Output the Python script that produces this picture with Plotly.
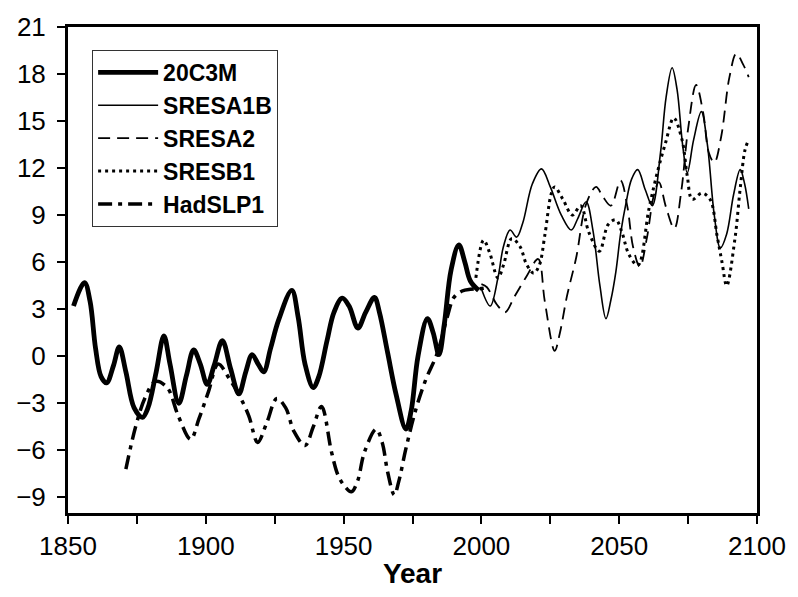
import plotly.graph_objects as go

# ---------------- data ----------------
c20_years = [1852, 1856, 1858, 1860, 1862, 1864, 1866.5, 1868.6, 1871, 1874, 1877, 1879, 1882, 1884.8,
             1887, 1890.2, 1893, 1895.6, 1898, 1900.5, 1903, 1906, 1909, 1912, 1914.5, 1916.8, 1919,
             1921, 1923.5, 1926.4, 1931.2, 1933.5, 1936, 1939, 1941, 1944, 1946.5, 1949.5, 1952,
             1955.2, 1958, 1961.2, 1963, 1966, 1969, 1972.6, 1974.5, 1977, 1980.4, 1982.5, 1984.6,
             1986.5, 1989, 1991.8, 1994, 1996, 1999]
c20_vals = [3.2, 4.7, 3.5, 0.5, -1.3, -1.7, -0.6, 0.6, -1.0, -3.3, -3.9, -3.3, -1.0, 1.3,
            -0.5, -3.0, -1.2, 0.4, -0.5, -1.8, -0.6, 1.0, -0.8, -2.4, -1.0, 0.1, -0.5,
            -1.0, 0.5, 2.3, 4.2, 2.5, -0.5, -2.0, -1.3, 1.0, 2.8, 3.7, 3.2,
            1.8, 2.8, 3.75, 2.8, 0.2, -2.4, -4.65, -3.5, 0.0, 2.4, 1.5, 0.1,
            2.0, 5.5, 7.1, 6.0, 4.8, 4.2]

had_years = [1871, 1874.6, 1878.2, 1881.8, 1886, 1890, 1894.5, 1897.5, 1901, 1904.5, 1908.4, 1912,
             1915.6, 1918.8, 1922, 1925.8, 1929, 1932, 1936, 1939, 1942, 1945.6, 1948, 1950.4,
             1952.8, 1955, 1957.6, 1961.8, 1964, 1966, 1968.4, 1970, 1972.6, 1976.2, 1979.8, 1984,
             1987.6, 1990, 1993, 1996, 1999, 2003]
had_vals = [-7.2, -4.45, -2.55, -1.6, -2.0, -3.8, -5.3, -4.0, -2.24, -0.5, -1.4, -2.45,
            -3.8, -5.5, -4.3, -2.7, -3.3, -4.8, -5.7, -4.5, -3.2, -6.1, -7.6, -8.3,
            -8.65, -8.0, -6.1, -4.65, -5.5, -7.4, -8.85, -8.0, -5.9, -3.4, -1.5, 0.2,
            2.5, 3.74, 4.16, 4.27, 4.3, 4.4]

a1b_years = [2000, 2003.2, 2006, 2008, 2010.4, 2012.8, 2015, 2018.5, 2021.8, 2025, 2029, 2032.6,
             2035, 2038, 2040.5, 2043, 2045.2, 2047, 2048.8, 2050.5, 2052.5, 2054.5, 2056.7,
             2059.5, 2062, 2065, 2067, 2069.2, 2071, 2073, 2074.7, 2077, 2079.8, 2082, 2084.5,
             2086.7, 2089, 2091.5, 2093.9, 2095.5, 2097]
a1b_vals = [4.3, 3.2, 5.0, 7.0, 8.05, 7.6, 8.5, 11.0, 11.95, 10.8, 9.0, 8.05,
            8.8, 9.85, 8.0, 4.5, 2.4, 3.6, 5.4, 7.8, 9.8, 11.3, 11.9,
            10.6, 9.6, 13.0, 16.5, 18.4, 17.0, 13.5, 11.7, 13.8, 15.6, 13.5, 9.0,
            6.9, 7.8, 10.3, 11.9, 11.0, 9.4]

a2_years = [2000, 2002, 2005.6, 2008.6, 2012, 2016.4, 2020.6, 2023, 2026.6, 2028.5, 2031, 2034.4,
            2038, 2041.6, 2044, 2047, 2050.5, 2053, 2055, 2057.5, 2060, 2062.5, 2064.4, 2067,
            2070, 2072.5, 2075, 2077.9, 2080.5, 2082.5, 2084.5, 2087, 2090, 2092.5, 2095, 2097]
a2_vals = [4.6, 4.4, 3.3, 2.8, 3.8, 5.1, 6.2, 3.5, 0.35, 1.5, 3.8, 6.3,
           9.7, 10.8, 10.2, 9.6, 11.2, 9.5, 7.0, 5.7, 7.5, 10.2, 11.1, 9.5,
           8.15, 10.5, 14.5, 17.3, 15.5, 13.0, 12.35, 14.0, 17.8, 19.3, 18.6, 17.8]

b1_years = [1998, 2000.8, 2003, 2006, 2008, 2011, 2014, 2016.4, 2019, 2021, 2023, 2025.4, 2026.6,
            2029.6, 2033, 2036, 2039, 2042.8, 2046, 2048.8, 2051, 2053.5, 2056.8, 2060.8, 2063.8,
            2066.8, 2069.8, 2072.8, 2074.7, 2076.5, 2080, 2083, 2085.5, 2087.3, 2089, 2092,
            2093.9, 2095.7, 2097]
b1_vals = [5.0, 7.4, 6.6, 5.0, 5.8, 7.5, 7.0, 5.85, 5.3, 5.8, 7.7, 10.4, 10.8,
           10.0, 9.0, 9.6, 7.9, 6.7, 8.4, 8.7, 7.9, 6.5, 5.8, 9.4, 11.7,
           13.6, 15.2, 13.8, 11.5, 10.0, 10.4, 10.0, 7.7, 6.0, 4.5, 7.5,
           10.7, 13.2, 13.8]

series_names = ["20C3M", "SRESA1B", "SRESA2", "SRESB1", "HadSLP1"]
y_ticks = [-9, -6, -3, 0, 3, 6, 9, 12, 15, 18, 21]
x_ticks = [1850, 1900, 1950, 2000, 2050, 2100]

# ---------------- figure ----------------
FONT = "Liberation Sans, Arial, sans-serif"
fig = go.Figure()
spec = [
    (c20_years, c20_vals, dict(color="black", width=4.8, dash="solid")),
    (a1b_years, a1b_vals, dict(color="black", width=1.6, dash="solid")),
    (a2_years, a2_vals, dict(color="black", width=1.8, dash="12px,7px")),
    (b1_years, b1_vals, dict(color="black", width=3, dash="3px,4px")),
    (had_years, had_vals, dict(color="black", width=3.5, dash="14px,6px,4px,6px")),
]
for name, (xs, ys, ln) in zip(series_names, spec):
    fig.add_trace(go.Scatter(x=xs, y=ys, mode="lines", name=name,
                             line=dict(shape="spline", smoothing=1.0, **ln)))

axis_common = dict(showline=True, linewidth=3, linecolor="black", mirror=True,
                   ticks="outside", ticklen=8, tickwidth=2, tickcolor="black",
                   showgrid=False, zeroline=False,
                   tickfont=dict(family=FONT, size=26, color="black"))

fig.update_xaxes(range=[1850, 2100], tickvals=x_ticks,
                 minor=dict(dtick=25, tick0=1850, ticks="outside", ticklen=8, tickwidth=2,
                            tickcolor="black"),
                 title=dict(text="<b>Year</b>", standoff=4,
                            font=dict(family=FONT, size=28, color="black")),
                 **axis_common)
fig.update_yaxes(range=[-10, 21], tickvals=y_ticks, ticklabelstandoff=6, **axis_common)

fig.update_layout(
    width=798, height=597,
    margin=dict(l=68, r=36, t=23, b=82),
    paper_bgcolor="white", plot_bgcolor="white",
    showlegend=True,
    legend=dict(x=0.035, y=0.953, xanchor="left", yanchor="top",
                bgcolor="white", bordercolor="#333", borderwidth=1,
                font=dict(family=FONT, size=23, color="black", weight="bold"),
                itemwidth=60, tracegroupgap=0),
)

fig.write_html("out.html")
